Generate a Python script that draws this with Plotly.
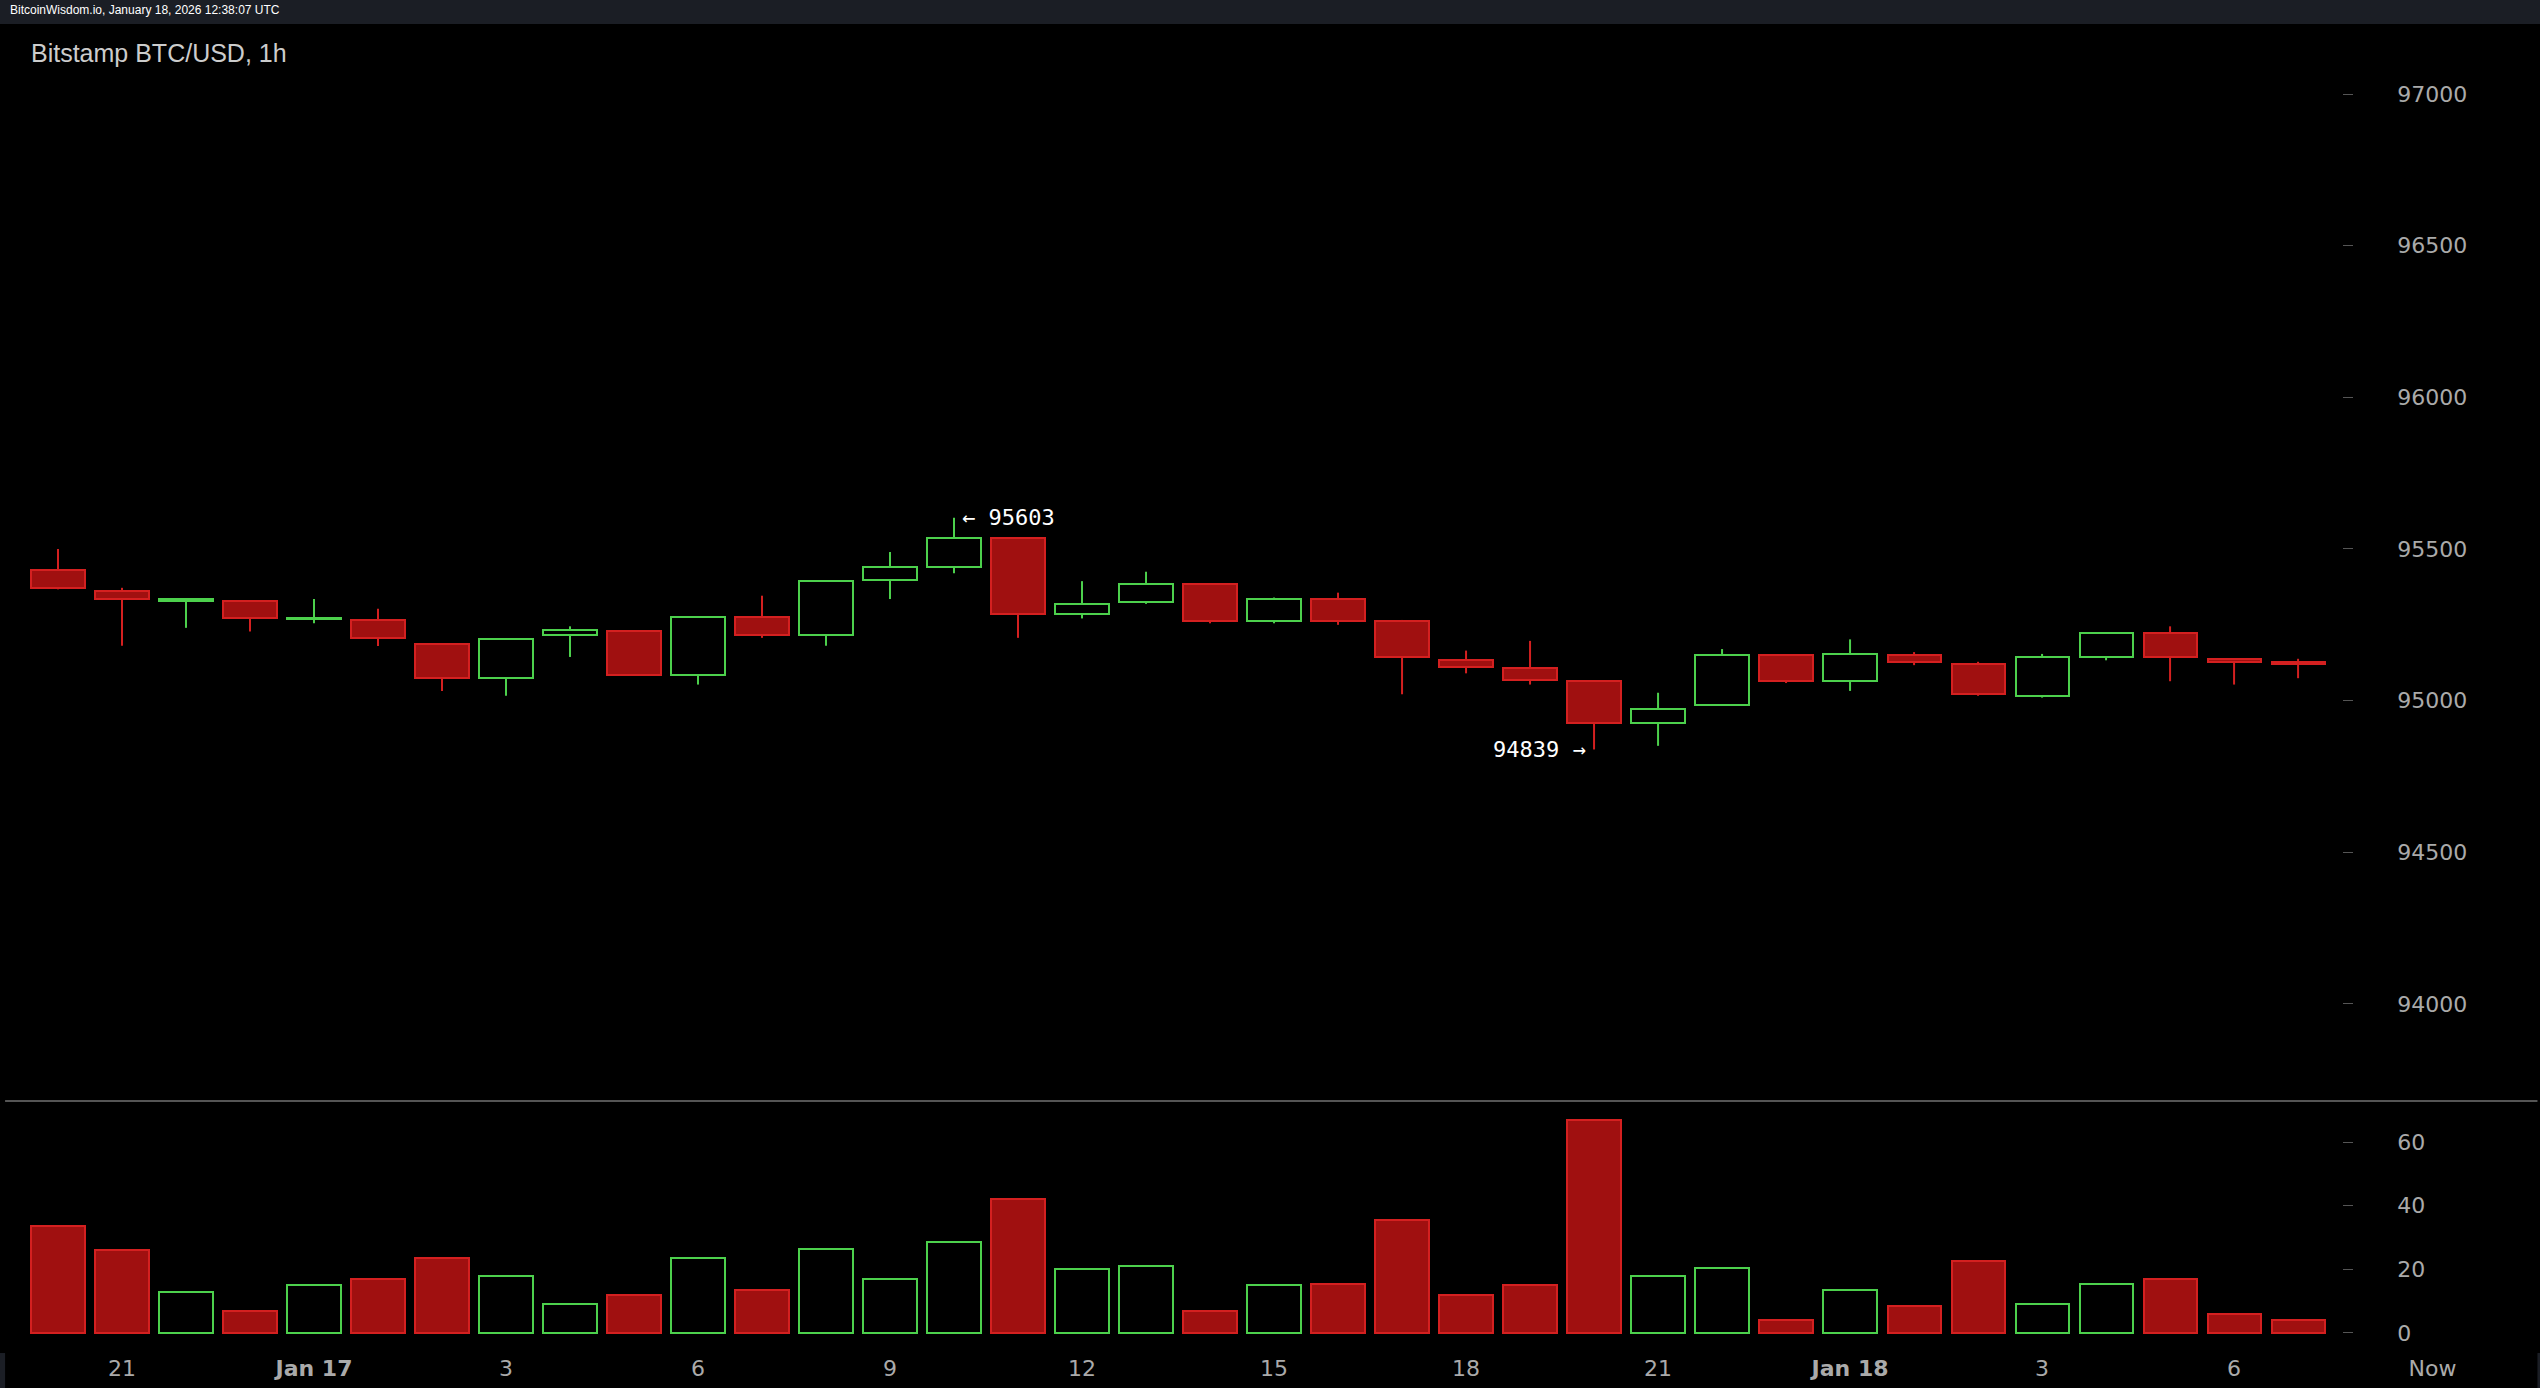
import plotly.graph_objects as go

# hourly candles, Jan 16 20:00 -> Jan 18 07:00
opens = [95431, 95362, 95330, 95330, 95268, 95266, 95186, 95074, 95218, 95229, 95085, 95277,
         95218, 95399, 95441, 95537, 95287, 95324, 95383, 95261, 95335, 95261, 95133, 95106,
         95064, 94925, 94984, 95149, 95064, 95149, 95122, 95016, 95144, 95223, 95138, 95128]
highs = [95500, 95372, 95335, 95330, 95335, 95303, 95186, 95202, 95245, 95229, 95277, 95346,
         95394, 95490, 95603, 95537, 95394, 95425, 95383, 95340, 95356, 95266, 95165, 95197,
         95064, 95026, 95170, 95149, 95202, 95160, 95128, 95154, 95223, 95245, 95138, 95138]
lows = [95367, 95181, 95240, 95228, 95255, 95180, 95032, 95016, 95144, 95085, 95053, 95207,
        95181, 95335, 95420, 95207, 95271, 95319, 95255, 95255, 95250, 95021, 95090, 95053,
        94839, 94851, 94984, 95058, 95032, 95117, 95016, 95010, 95133, 95064, 95053, 95074]
closes = [95372, 95335, 95331, 95271, 95273, 95207, 95074, 95202, 95234, 95085, 95277, 95218,
          95394, 95441, 95537, 95287, 95319, 95383, 95261, 95335, 95261, 95144, 95112, 95069,
          94925, 94973, 95149, 95064, 95154, 95128, 95021, 95144, 95223, 95144, 95128, 95122]
volumes = [33.5, 26, 13, 7, 15, 17, 23.5, 18, 9, 12, 23.5, 13.5, 26.5, 17, 28.5, 42, 20, 21,
           7, 15, 15.5, 35.5, 12, 15, 67, 18, 20.5, 4, 13.5, 8.5, 22.5, 9, 15.5, 17, 6, 4]

tick_pos = [1, 4, 7, 10, 13, 16, 19, 22, 25, 28, 31, 34, 37.1]
tick_text = ["21", "<b>Jan 17</b>", "3", "6", "9", "12", "15", "18", "21", "<b>Jan 18</b>", "3", "6", "Now"]

idx = list(range(len(opens)))
GREEN = "#4cd04c"
RED_FILL = "#a01010"
RED_LINE = "#d42020"
up = [c >= o for o, c in zip(opens, closes)]
fills = ["#000000" if u else RED_FILL for u in up]
edges = [GREEN if u else RED_LINE for u in up]

fig = go.Figure()

# bodies
body_base = [min(o, c) for o, c in zip(opens, closes)]
body_len = [max(abs(c - o), 4) for o, c in zip(opens, closes)]
fig.add_trace(go.Bar(x=idx, y=body_len, base=body_base, width=0.83,
                     marker=dict(color=fills, line=dict(color=edges, width=2)),
                     xaxis="x", yaxis="y", showlegend=False))

# wicks (upper and lower parts only, so they don't cross hollow bodies)
for is_up, col in [(True, GREEN), (False, RED_LINE)]:
    wx, wy = [], []
    for i in idx:
        if up[i] == is_up:
            top = max(opens[i], closes[i])
            bot = min(opens[i], closes[i])
            wx += [i, i, None, i, i, None]
            wy += [top, highs[i], None, lows[i], bot, None]
    fig.add_trace(go.Scatter(x=wx, y=wy, mode="lines", line=dict(color=col, width=2),
                             xaxis="x", yaxis="y", showlegend=False, hoverinfo="skip"))

fig.add_trace(go.Bar(
    x=idx, y=volumes, width=0.83,
    marker=dict(color=fills, line=dict(color=edges, width=2)),
    xaxis="x2", yaxis="y2", showlegend=False))

x_range = [-0.906, 38.78]
fig.update_layout(
    width=2540, height=1388,
    margin=dict(l=0, r=0, t=0, b=0),
    paper_bgcolor="#1b1e25", plot_bgcolor="#000000",
    font=dict(family="DejaVu Sans", color="#aaaaaa", size=22),
    bargap=0,
    xaxis=dict(domain=[0, 1], range=x_range, anchor="y", showticklabels=False,
               showgrid=False, zeroline=False),
    xaxis2=dict(domain=[0, 1], range=x_range, anchor="y2", tickvals=tick_pos, ticktext=tick_text,
                showgrid=False, zeroline=False, ticks="", tickfont=dict(size=22, color="#aaaaaa")),
    yaxis=dict(domain=[0.2068, 0.9827], range=[93680, 97231], anchor="free", position=0.922,
               side="right", tickvals=[94000, 94500, 95000, 95500, 96000, 96500, 97000],
               tickformat="d", ticks="outside", ticklen=10, tickcolor="#555555",
               ticklabelstandoff=40, showgrid=False, zeroline=False,
               tickfont=dict(size=22, color="#aaaaaa")),
    yaxis2=dict(domain=[0.0252, 0.2068], range=[-6.3, 72.9], anchor="free", position=0.922,
                side="right", tickvals=[0, 20, 40, 60], ticks="outside", ticklen=10,
                tickcolor="#555555", ticklabelstandoff=40, showgrid=False, zeroline=False,
                tickfont=dict(size=22, color="#aaaaaa")),
    shapes=[
        dict(type="rect", xref="paper", yref="paper", x0=0.002, x1=0.999, y0=0, y1=0.9827,
             fillcolor="#000000", line=dict(width=0), layer="below"),
        dict(type="line", xref="paper", yref="paper", x0=0.002, x1=0.999, y0=0.2068, y1=0.2068,
             line=dict(color="#555555", width=2)),
    ],
    annotations=[
        dict(text="BitcoinWisdom.io, January 18, 2026 12:38:07 UTC", xref="paper", yref="paper",
             x=0.003, y=0.9995, xanchor="left", yanchor="top", showarrow=False,
             font=dict(size=12, color="#ffffff", family="Liberation Sans")),
        dict(text="Bitstamp BTC/USD, 1h", xref="paper", yref="paper", x=0.0115, y=0.962,
             xanchor="left", yanchor="middle", showarrow=False,
             font=dict(size=25, color="#cccccc", family="Liberation Sans")),
        dict(text="← 95603", x=14.1, y=highs[14], xref="x", yref="y", xanchor="left",
             yanchor="middle", showarrow=False,
             font=dict(size=22, color="#ffffff", family="DejaVu Sans Mono")),
        dict(text="94839 →", x=23.9, y=lows[24], xref="x", yref="y", xanchor="right",
             yanchor="middle", showarrow=False,
             font=dict(size=22, color="#ffffff", family="DejaVu Sans Mono")),
    ],
)

fig.write_html("out.html", config={"displayModeBar": False})

# drop the default page margin so the figure fills the window
with open("out.html") as f:
    page = f.read()
page = page.replace("<body>", '<body style="margin:0;background:#1b1e25">', 1)
with open("out.html", "w") as f:
    f.write(page)
